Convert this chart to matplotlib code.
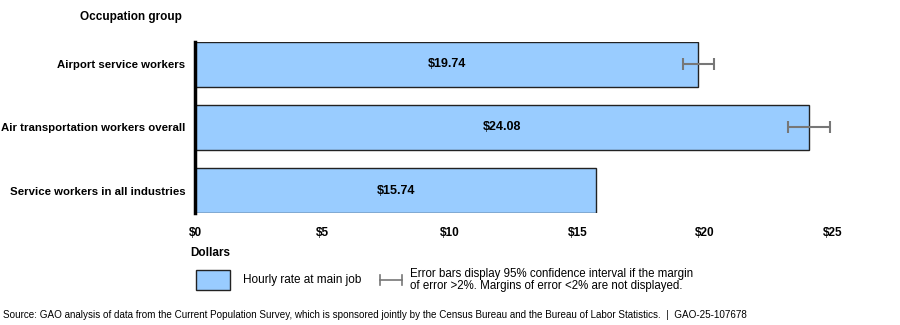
import matplotlib
matplotlib.use("Agg")
import matplotlib.pyplot as plt
from matplotlib.patches import Rectangle

plt.rcParams['font.family'] = ['Liberation Sans', 'DejaVu Sans']

groups = ["Airport service workers", "Air transportation workers overall",
          "Service workers in all industries"]
rates = [19.74, 24.08, 15.74]
# 95% CI margins; None where the margin is under 2%
margins = [0.6, 0.82, None]
ticks = [0, 5, 10, 15, 20, 25]

bar_color = "#99ccff"
edge_color = "#222222"
err_color = "#777777"

fig = plt.figure(figsize=(9, 3.25), dpi=100)
ax = fig.add_axes([195 / 900, 0.3446, 637.5 / 900, 0.5262])

ypos = list(range(len(groups)))
ax.barh(ypos, rates, height=0.714, color=bar_color, edgecolor=edge_color, linewidth=1)
for y, v, m in zip(ypos, rates, margins):
    ax.text(v / 2, y, f"${v:.2f}", ha="center", va="center", fontsize=9, fontweight="bold")
    if m is not None:
        ax.errorbar(v, y, xerr=m, fmt="none", ecolor=err_color, elinewidth=1.5,
                    capsize=4, capthick=1.5)

ax.set_ylim(2.357, -0.357)
ax.set_xlim(0, 25)
ax.set_xticks(ticks)
ax.set_xticklabels([f"${t}" for t in ticks], fontsize=8.5, fontweight="bold")
ax.set_yticks(ypos)
ax.set_yticklabels(groups, fontsize=8.2, fontweight="bold")
ax.tick_params(axis="y", length=0, pad=7)
ax.tick_params(axis="x", length=0, pad=10)
for s in ["top", "right", "bottom"]:
    ax.spines[s].set_visible(False)
ax.spines["left"].set_linewidth(2.5)
ax.spines["left"].set_color("black")

fig.text(182 / 900, 1 - 17 / 325, "Occupation group", ha="right", va="center",
         fontsize=8.5, fontweight="bold")
fig.text(190 / 900, 1 - 253 / 325, "Dollars", ha="left", va="center",
         fontsize=8.5, fontweight="bold")

# legend
fig.patches.append(Rectangle((196 / 900, 1 - 290 / 325), 34 / 900, 20 / 325,
                             transform=fig.transFigure, facecolor=bar_color,
                             edgecolor=edge_color, linewidth=1))
fig.text(243 / 900, 1 - 280 / 325, "Hourly rate at main job", ha="left", va="center",
         fontsize=8.5)
ly = 1 - 280 / 325
fig.lines.append(plt.Line2D([380 / 900, 402 / 900], [ly, ly], transform=fig.transFigure,
                            color=err_color, linewidth=1.2))
for lx in (380 / 900, 402 / 900):
    fig.lines.append(plt.Line2D([lx, lx], [ly - 5 / 325, ly + 5 / 325],
                                transform=fig.transFigure, color=err_color, linewidth=1.2))
fig.text(410 / 900, ly, "Error bars display 95% confidence interval if the margin\n"
         "of error >2%. Margins of error <2% are not displayed.",
         ha="left", va="center", fontsize=8.3, linespacing=1.1)

fig.text(3 / 900, 1 - 315 / 325,
         "Source: GAO analysis of data from the Current Population Survey, which is sponsored "
         "jointly by the Census Bureau and the Bureau of Labor Statistics.  |  GAO-25-107678",
         ha="left", va="center", fontsize=7.1)

fig.savefig("out.png", dpi=100)
